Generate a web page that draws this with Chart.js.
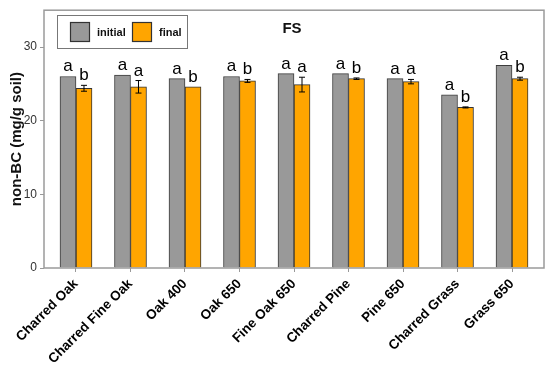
<!DOCTYPE html>
<html>
<head>
<meta charset="utf-8">
<script src="https://cdn.jsdelivr.net/npm/chart.js@4/dist/chart.umd.min.js"></script>
<style>
  html, body { margin: 0; padding: 0; background: #fff; }
</style>
</head>
<body>
<canvas id="chart" width="550" height="372"></canvas>
<script>
// values
const categories = ["Charred Oak", "Charred Fine Oak", "Oak 400", "Oak 650", "Fine Oak 650",
                    "Charred Pine", "Pine 650", "Charred Grass", "Grass 650"];
const initialValues = [26.0, 26.2, 25.7, 26.0, 26.4, 26.4, 25.7, 23.5, 27.5];
const finalValues   = [24.4, 24.6, 24.6, 25.4, 24.9, 25.7, 25.3, 21.8, 25.7];
const initialErrors = [0, 0, 0, 0, 0, 0, 0, 0, 0];
const finalErrors   = [0.4, 0.85, 0, 0.2, 1.0, 0.1, 0.3, 0.07, 0.2];
const initialLetters = ["a", "a", "a", "a", "a", "a", "a", "a", "a"];
const finalLetters   = ["b", "a", "b", "b", "a", "b", "a", "b", "b"];
const yTicks = [0, 10, 20, 30];

const FONT = "'Liberation Sans', Arial, sans-serif";
const GRAY = "#999999";
const ORANGE = "#FFA500";

const extras = {
    id: "extras",
    afterDatasetsDraw(chart) {
        const { ctx, chartArea: a, scales: { y } } = chart;
        ctx.save();

        // error bars and significance letters
        const groups = [
            [initialValues, initialErrors, initialLetters],
            [finalValues, finalErrors, finalLetters]
        ];
        groups.forEach(([vals, errs, letters], d) => {
            chart.getDatasetMeta(d).data.forEach((bar, i) => {
                const cx = bar.x;
                const e = errs[i];
                const top = y.getPixelForValue(vals[i] + e);
                if (e > 0) {
                    const bot = y.getPixelForValue(vals[i] - e);
                    ctx.strokeStyle = "#000";
                    ctx.lineWidth = 1;
                    ctx.beginPath();
                    ctx.moveTo(cx, top); ctx.lineTo(cx, bot);
                    ctx.moveTo(cx - 3, top); ctx.lineTo(cx + 3, top);
                    ctx.moveTo(cx - 3, bot); ctx.lineTo(cx + 3, bot);
                    ctx.stroke();
                }
                ctx.fillStyle = "#000";
                ctx.font = "17px " + FONT;
                ctx.textAlign = "center";
                ctx.textBaseline = "alphabetic";
                ctx.fillText(letters[i], cx, top - 5);
            });
        });

        // plot frame
        ctx.strokeStyle = "#9a9a9a";
        ctx.lineWidth = 1.5;
        ctx.strokeRect(a.left, a.top, a.right - a.left, a.bottom - a.top);

        // title
        ctx.fillStyle = "#111";
        ctx.font = "bold 15px " + FONT;
        ctx.textAlign = "center";
        ctx.textBaseline = "middle";
        ctx.fillText("FS", 292, 29);

        // legend box
        ctx.strokeStyle = "#777";
        ctx.lineWidth = 1;
        ctx.strokeRect(57.5, 15.5, 130, 33);
        const items = chart.data.datasets;
        const xs = [70, 132];
        items.forEach((ds, k) => {
            ctx.fillStyle = ds.backgroundColor;
            ctx.fillRect(xs[k], 22, 20, 20);
            ctx.strokeStyle = "#333";
            ctx.lineWidth = 1.2;
            ctx.strokeRect(xs[k] + 0.5, 22.5, 19, 19);
            ctx.fillStyle = "#111";
            ctx.font = "bold 11px " + FONT;
            ctx.textAlign = "left";
            ctx.textBaseline = "middle";
            ctx.fillText(ds.label, xs[k] + 27, 32.5);
        });

        ctx.restore();
    }
};

new Chart(document.getElementById("chart").getContext("2d"), {
    type: "bar",
    data: {
        datasets: [{
            label: "initial",
            data: initialValues.map((v, i) => ({ x: i, y: v })),
            backgroundColor: GRAY,
            borderColor: "#3c3c3c",
            borderWidth: 1,
            barThickness: 16
        }, {
            label: "final",
            data: finalValues.map((v, i) => ({ x: i, y: v })),
            backgroundColor: ORANGE,
            borderColor: "#333",
            borderWidth: 1,
            barThickness: 16
        }]
    },
    options: {
        responsive: false,
        animation: false,
        layout: { padding: { top: 5, right: 6, left: 0, bottom: 0 } },
        plugins: { legend: { display: false }, tooltip: { enabled: false } },
        scales: {
            x: {
                type: "linear",
                offset: false,
                min: -0.587,
                max: 8.587,
                afterBuildTicks: s => { s.ticks = categories.map((c, i) => ({ value: i })); },
                afterFit: s => { s.height = 104; },
                grid: { offset: false, drawOnChartArea: false, drawTicks: true, tickLength: 4, color: "#999" },
                border: { display: false },
                ticks: {
                    autoSkip: false,
                    minRotation: 45,
                    maxRotation: 45,
                    padding: 4,
                    color: "#000",
                    font: { family: FONT, size: 13.5, weight: "bold" },
                    callback: v => categories[v]
                }
            },
            y: {
                min: 0,
                max: 35,
                afterBuildTicks: s => { s.ticks = yTicks.map(v => ({ value: v })); },
                afterFit: s => { s.width = 44; },
                grid: { drawOnChartArea: false, drawTicks: true, tickLength: 4, color: "#999" },
                border: { display: false },
                ticks: { padding: 3, color: "#333", font: { family: FONT, size: 12 } },
                title: {
                    display: true,
                    text: "non-BC (mg/g soil)",
                    color: "#111",
                    font: { family: FONT, size: 15, weight: "bold" },
                    padding: { top: 8, bottom: 0 }
                }
            }
        }
    },
    plugins: [extras]
});
</script>
</body>
</html>
